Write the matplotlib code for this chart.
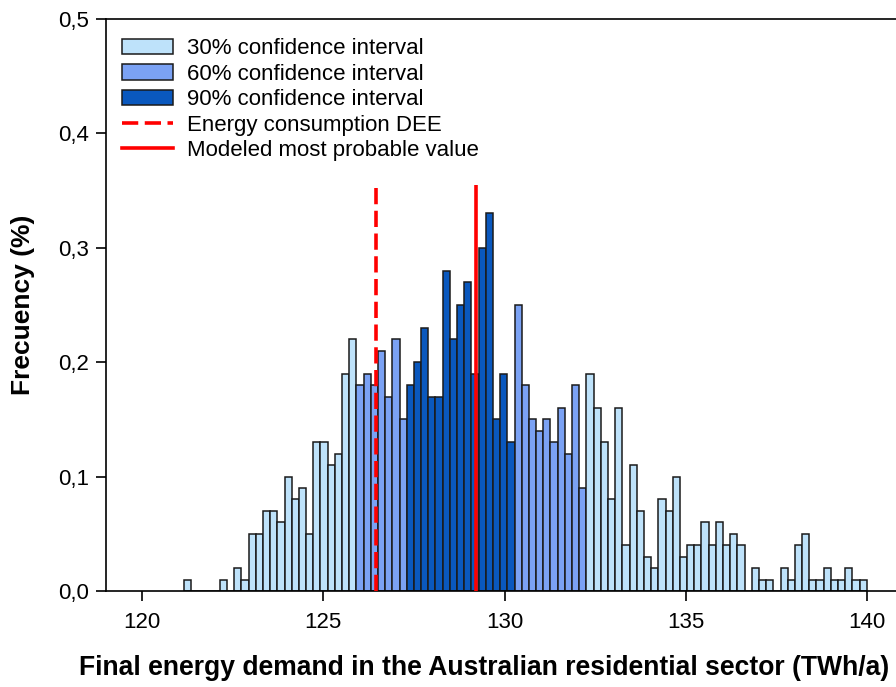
import numpy as np
import matplotlib
matplotlib.use("Agg")
import matplotlib.pyplot as plt
from matplotlib.patches import Patch
from matplotlib.lines import Line2D
from matplotlib.ticker import FuncFormatter

plt.rcParams['font.family'] = ['Liberation Sans', 'DejaVu Sans']

# frequency (%) per bin, from left to right
freq = [0.01, 0, 0, 0, 0, 0.01, 0, 0.02, 0.01, 0.05,
        0.05, 0.07, 0.07, 0.06, 0.10, 0.08, 0.09, 0.05, 0.13, 0.13,
        0.11, 0.12, 0.19, 0.22, 0.18, 0.19, 0.18, 0.21, 0.17, 0.22,
        0.15, 0.18, 0.20, 0.23, 0.17, 0.17, 0.28, 0.22, 0.25, 0.27,
        0.19, 0.30, 0.33, 0.15, 0.19, 0.13, 0.25, 0.18, 0.15, 0.14,
        0.15, 0.13, 0.16, 0.12, 0.18, 0.09, 0.19, 0.16, 0.13, 0.08,
        0.16, 0.04, 0.11, 0.07, 0.03, 0.02, 0.08, 0.07, 0.10, 0.03,
        0.04, 0.04, 0.06, 0.04, 0.06, 0.04, 0.05, 0.04, 0, 0.02,
        0.01, 0.01, 0, 0.02, 0.01, 0.04, 0.05, 0.01, 0.01, 0.02,
        0.01, 0.01, 0.02, 0.01, 0.01]
first_edge = 121.15
last_edge = 140.0

# bin index ranges [start, stop) of the inner confidence intervals
ci60 = (24, 56)
ci90 = (31, 46)

dee_value = 126.45      # energy consumption DEE
modeled_value = 129.2   # modeled most probable value
line_top = 0.355

labels = ['30% confidence interval', '60% confidence interval',
          '90% confidence interval', 'Energy consumption DEE',
          'Modeled most probable value']
c30, c60, c90 = '#BEE2FA', '#7BA2F4', '#0A58BE'

edges = np.linspace(first_edge, last_edge, len(freq) + 1)
width = edges[1] - edges[0]
colors = []
for i in range(len(freq)):
    if ci90[0] <= i < ci90[1]:
        colors.append(c90)
    elif ci60[0] <= i < ci60[1]:
        colors.append(c60)
    else:
        colors.append(c30)

fig = plt.figure(figsize=(8.96, 6.87), dpi=100)
ax = fig.add_axes([106 / 896, 1 - 591 / 687, 797 / 896, 572 / 687])

ax.bar(edges[:-1], freq, width=width, align='edge', color=colors,
       edgecolor='#1a1a1a', linewidth=1.1, zorder=2)
ax.vlines(dee_value, 0, line_top, colors='#ff0000', linewidth=2.6,
          linestyles=(0, (4.5, 1.8)), zorder=3)
ax.vlines(modeled_value, 0, line_top, colors='#ff0000', linewidth=2.6,
          zorder=3)

ax.set_xlim(119, 141)
ax.set_ylim(0, 0.5)
ax.set_xticks([120, 125, 130, 135, 140])
ax.set_yticks(np.arange(0, 0.51, 0.1))
ax.yaxis.set_major_formatter(FuncFormatter(lambda v, p: f'{v:.1f}'.replace('.', ',')))
ax.tick_params(direction='out', length=7, width=1.2, labelsize=16, pad=5)
ax.tick_params(axis='x', pad=8)
for s in ax.spines.values():
    s.set_linewidth(1.2)

ax.set_xlabel('Final energy demand in the Australian residential sector (TWh/a)',
              fontsize=19.1, fontweight='bold')
ax.xaxis.set_label_coords(0.4743, -0.112)
ax.set_ylabel('Frecuency (%)', fontsize=19, fontweight='bold', labelpad=17)

handles = [
    Patch(facecolor=c30, edgecolor='#1a1a1a', linewidth=1.1),
    Patch(facecolor=c60, edgecolor='#1a1a1a', linewidth=1.1),
    Patch(facecolor=c90, edgecolor='#1a1a1a', linewidth=1.1),
    Line2D([], [], color='#ff0000', linewidth=2.6, linestyle=(0, (4.5, 1.8))),
    Line2D([], [], color='#ff0000', linewidth=2.6),
]
ax.legend(handles, labels, loc='upper left', bbox_to_anchor=(0.0205, 0.966),
          frameon=False, fontsize=16, handlelength=2.3, handleheight=0.7,
          handletextpad=0.6, labelspacing=0.2, borderaxespad=0, borderpad=0)

fig.savefig('out.png', dpi=100)
